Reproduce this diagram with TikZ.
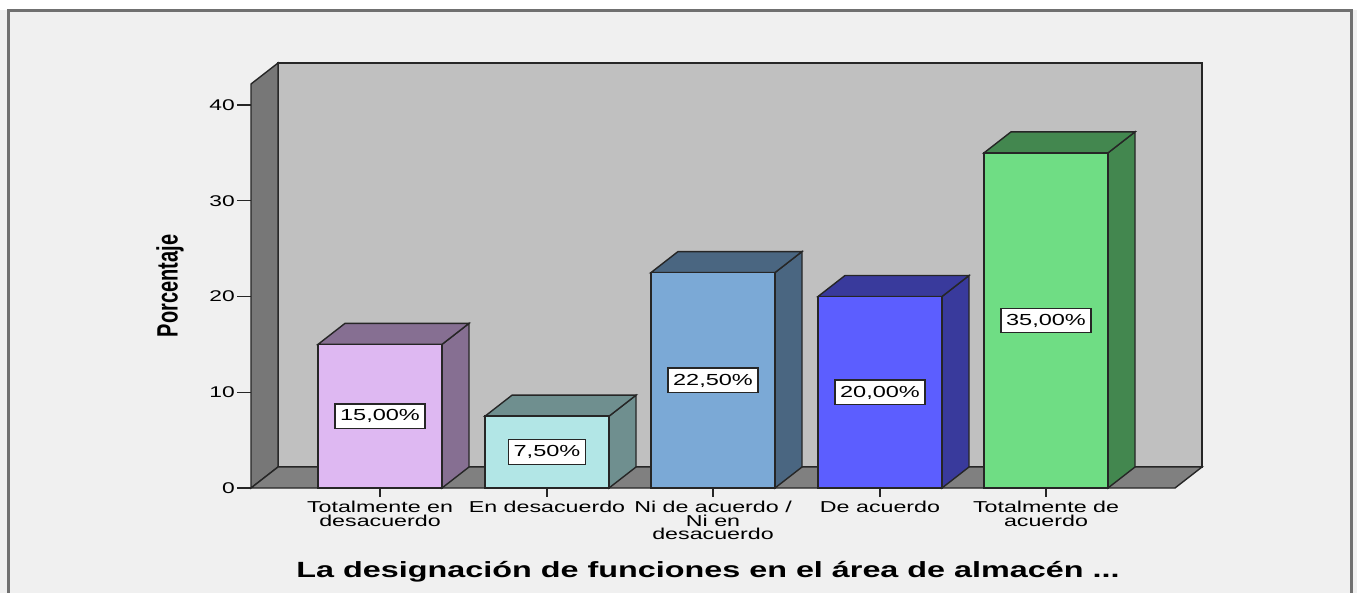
\documentclass[tikz,border=0pt]{standalone}
\usepackage{fontspec}
\setmainfont{Liberation Sans}
\usepackage{graphicx}
\newcommand\sx[1]{\scalebox{1.47}[1]{#1}}
\definecolor{bgc}{HTML}{F0F0F0}
\definecolor{framec}{HTML}{707070}
\definecolor{wallL}{HTML}{777777}
\definecolor{wallB}{HTML}{C0C0C0}
\definecolor{floorc}{HTML}{808080}
\definecolor{fa}{HTML}{DEB8F2}\definecolor{sa}{HTML}{866F92}
\definecolor{fb}{HTML}{B2E6E6}\definecolor{sb}{HTML}{6F8F8F}
\definecolor{fc}{HTML}{7BA9D6}\definecolor{sc}{HTML}{4A6681}
\definecolor{fd}{HTML}{5C5EFF}\definecolor{sd}{HTML}{393A9C}
\definecolor{fe}{HTML}{6FDD84}\definecolor{se}{HTML}{43874F}
\begin{document}
\begin{tikzpicture}[x=1pt,y=-1pt,line join=miter,
  edge3d/.style={draw=black!85,line width=1.4},
  valbox/.style={draw=black!85,fill=white,line width=1.3,inner xsep=5,inner ysep=5.5,text height=11.5,text depth=2,font=\fontsize{16}{16}\selectfont},
  catlab/.style={anchor=north,align=center,inner sep=0,font=\fontsize{15.8}{13.6}\selectfont},
  ticklab/.style={anchor=east,inner sep=0,font=\fontsize{15.5}{15}\selectfont}]
\useasboundingbox (0,0) rectangle (1357,593);
\fill[white] (0,0) rectangle (1357,593);
\fill[bgc] (0,10) rectangle (1357,593);
\draw[framec,line width=3] (8,593) -- (8,11) -- (1351,11) -- (1351,593);
% walls
\filldraw[fill=wallB,edge3d] (278,63) rectangle (1202,467);
\filldraw[fill=wallL,edge3d] (251,488) -- (251,84) -- (278,63) -- (278,467) -- cycle;
\filldraw[fill=floorc,edge3d] (251,488) -- (278,467) -- (1202,467) -- (1175,488) -- cycle;
% y axis ticks
\foreach \v in {0,10,20,30,40}{
  \draw[black!85,line width=1.4] (237,{488-9.575*\v}) -- (251,{488-9.575*\v});
  \node[ticklab] (t\v) at (235,{488-9.575*\v}) {\sx{\v}};
}
% bars
\foreach \i/\xa/\v/\fcol/\scol/\lab in {1/318/15/fa/sa/{15,00\%},2/485/7.5/fb/sb/{7,50\%},3/651/22.5/fc/sc/{22,50\%},4/818/20/fd/sd/{20,00\%},5/984/35/fe/se/{35,00\%}}{
  \pgfmathsetmacro\yt{488-9.575*\v}
  \pgfmathsetmacro\xb{\xa+124}
  \filldraw[fill=\scol,edge3d] (\xb,488) -- (\xb,\yt) -- ({\xb+27},{\yt-21}) -- ({\xb+27},467) -- cycle;
  \filldraw[fill=\scol,edge3d] (\xa,\yt) -- ({\xa+27},{\yt-21}) -- ({\xb+27},{\yt-21}) -- (\xb,\yt) -- cycle;
  \filldraw[fill=\fcol,edge3d] (\xa,\yt) rectangle (\xb,488);
  \node[valbox] (v\i) at ({\xa+62},{(488+\yt)/2}) {\sx{\lab}};
  \draw[black!85,line width=1.4] ({\xa+62},488) -- ({\xa+62},497);
}
% category labels
\node[catlab] (c1) at (380,501) {\sx{Totalmente en}\\\sx{desacuerdo}};
\node[catlab] (c2) at (547,501) {\sx{En desacuerdo}};
\node[catlab] (c3) at (713,501) {\sx{Ni de acuerdo /}\\\sx{Ni en}\\\sx{desacuerdo}};
\node[catlab] (c4) at (880,501) {\sx{De acuerdo}};
\node[catlab] (c5) at (1046,501) {\sx{Totalmente de}\\\sx{acuerdo}};
% axis titles
\node[rotate=90,inner sep=0,font=\bfseries\fontsize{20}{20}\selectfont] (ylab) at (170,286) {\scalebox{1}[1.47]{Porcentaje}};
\node[anchor=base,inner sep=0,font=\bfseries\fontsize{22}{22}\selectfont] (title) at (708,577) {\sx{La designación de funciones en el área de almacén ...}};
\end{tikzpicture}
\end{document}
